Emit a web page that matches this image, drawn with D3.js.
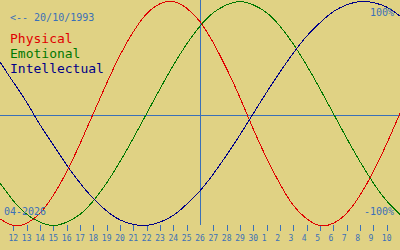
<!DOCTYPE html>
<html>
<head>
<meta charset="utf-8">
<script src="https://cdn.jsdelivr.net/npm/d3@7"></script>
<style>
	body { margin: 0; background: #e0d284; }
	svg { display: block; }
	text { font-family: "DejaVu Sans Mono", "Liberation Mono", monospace; }
</style>
</head>
<body>
<div id="chart"></div>
<script>

// day of month for every column, 11 Apr .. 11 May
var days = [11,12,13,14,15,16,17,18,19,20,21,22,23,24,25,26,27,28,29,30,1,2,3,4,5,6,7,8,9,10,11]
var todayIndex = 15

// cycle values, one per day (-1 .. 1)
var physical = [-0.94,-1.00,-0.98,-0.89,-0.73,-0.52,-0.27,0.00,0.27,0.52,0.73,0.89,0.98,1.00,0.94,0.82,
	0.63,0.40,0.14,-0.14,-0.40,-0.63,-0.82,-0.94,-1.00,-0.98,-0.89,-0.73,-0.52,-0.27,0.00]
var emotional = [-0.62,-0.78,-0.90,-0.97,-1.00,-0.97,-0.90,-0.78,-0.62,-0.43,-0.22,0.00,0.22,0.43,0.62,0.78,
	0.90,0.97,1.00,0.97,0.90,0.78,0.62,0.43,0.22,0.00,-0.22,-0.43,-0.62,-0.78,-0.90]
var intellectual = [0.46,0.28,0.10,-0.10,-0.28,-0.46,-0.62,-0.76,-0.87,-0.95,-0.99,-1.00,-0.97,-0.91,-0.81,-0.69,
	-0.54,-0.37,-0.19,0.00,0.19,0.37,0.54,0.69,0.81,0.91,0.97,1.00,0.99,0.95,0.87]

var seriesNames = ['Physical','Emotional','Intellectual']
var seriesColors = ['#e00000','#007800','#000088']
var birthLabel = '<-- 20/10/1993'
var monthLabel = '04-2026'
var topLabel = '100%'
var bottomLabel = '-100%'

var width = 400, height = 250
var axisBlue = '#3a70b8'

var svg = d3.select('#chart').append('svg')
	.attr('width', width)
	.attr('height', height)
	.style('background', '#e0d284')

var x = d3.scaleLinear()
	.domain([0, days.length - 1])
	.range([0, width])

var y = d3.scaleLinear()
	.domain([-1, 1])
	.range([225.5, 1.5])

// zero line (sits a little under the curve centre in the original)
var zeroY = Math.round(y(0)) + 1.5
svg.append('line')
	.attr('x1', 0).attr('x2', width)
	.attr('y1', zeroY).attr('y2', zeroY)
	.attr('stroke', axisBlue)
	.attr('stroke-width', 1)

// today marker
svg.append('line')
	.attr('x1', Math.round(x(todayIndex)) + 0.5).attr('x2', Math.round(x(todayIndex)) + 0.5)
	.attr('y1', 0).attr('y2', 225)
	.attr('stroke', axisBlue)
	.attr('stroke-width', 1)

// day ticks and labels
var tickIdx = d3.range(1, days.length - 1)
svg.selectAll('.tick')
	.data(tickIdx.filter(function(i){ return i != todayIndex }))
	.enter()
	.append('line')
		.attr('class','tick')
		.attr('x1', function(i){ return Math.round(x(i)) + 0.5 })
		.attr('x2', function(i){ return Math.round(x(i)) + 0.5 })
		.attr('y1', 225).attr('y2', 231)
		.attr('stroke', axisBlue)

svg.selectAll('.day')
	.data(tickIdx)
	.enter()
	.append('text')
		.attr('class','day')
		.attr('x', function(i){ return x(i) - 4.8 })
		.attr('y', 241)
		.style('font-size','8px')
		.attr('fill', axisBlue)
		.text(function(i){ return days[i] })

// curves
var line = d3.line()
	.x(function(d,i){ return x(i) })
	.y(function(d){ return y(d) })
	.curve(d3.curveNatural)

var series = [physical, emotional, intellectual]
svg.selectAll('.cycle')
	.data(series)
	.enter()
	.append('path')
		.attr('class','cycle')
		.attr('d', line)
		.attr('fill','none')
		.attr('stroke', function(d,i){ return seriesColors[i] })
		.attr('stroke-width', 1)
		.style('shape-rendering','crispEdges')

// labels
svg.append('text')
	.attr('x', 10).attr('y', 21)
	.style('font-size','10px')
	.attr('fill', axisBlue)
	.text(birthLabel)

svg.selectAll('.legend')
	.data(seriesNames)
	.enter()
	.append('text')
		.attr('class','legend')
		.attr('x', 10)
		.attr('y', function(d,i){ return 43 + i*15 })
		.style('font-size','13px')
		.attr('fill', function(d,i){ return seriesColors[i] })
		.text(function(d){ return d })

svg.append('text')
	.attr('x', 394).attr('y', 16)
	.attr('text-anchor','end')
	.style('font-size','10px')
	.attr('fill', axisBlue)
	.text(topLabel)

svg.append('text')
	.attr('x', 394).attr('y', 215)
	.attr('text-anchor','end')
	.style('font-size','10px')
	.attr('fill', axisBlue)
	.text(bottomLabel)

svg.append('text')
	.attr('x', 4).attr('y', 215)
	.style('font-size','10px')
	.attr('fill', axisBlue)
	.text(monthLabel)

</script>
</body>
</html>
